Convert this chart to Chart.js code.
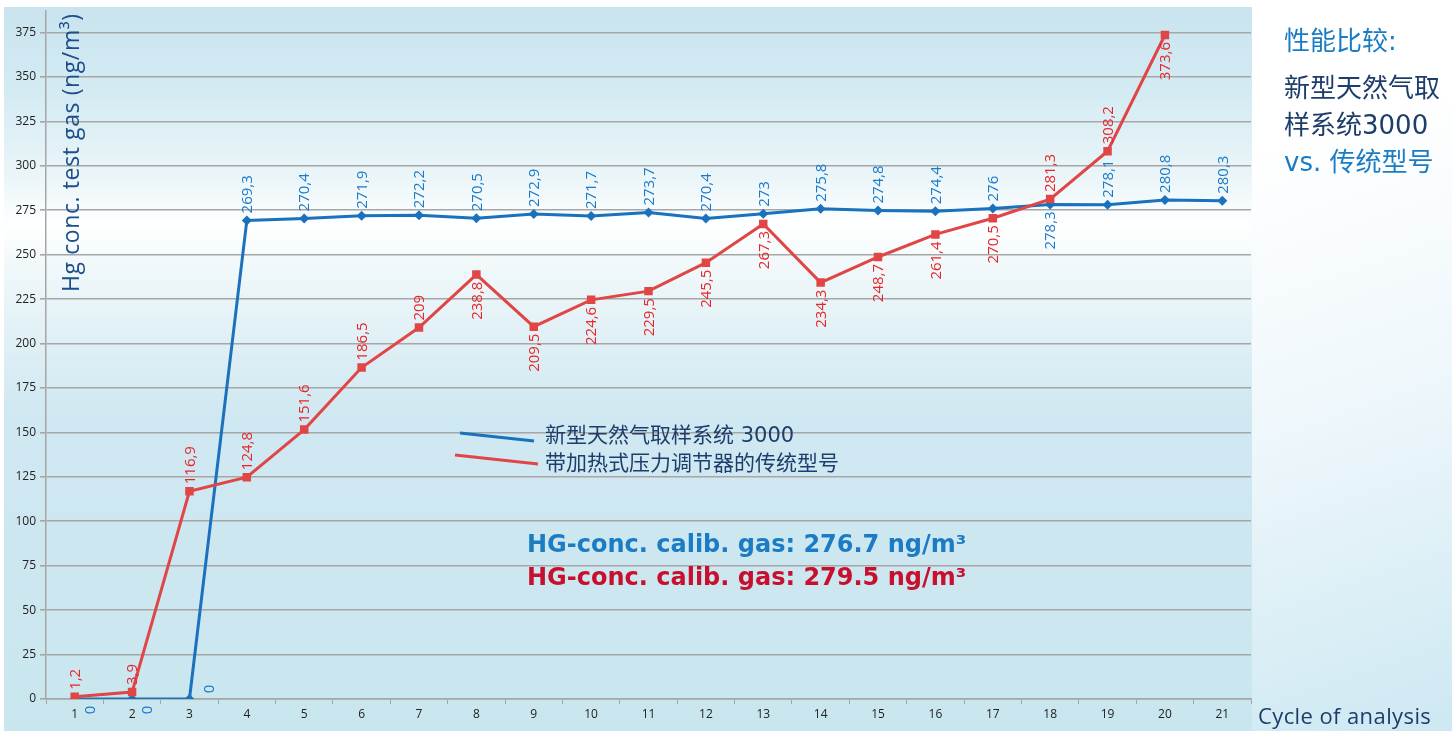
<!DOCTYPE html>
<html>
<head>
<meta charset="utf-8">
<script src="https://cdn.jsdelivr.net/npm/chart.js@4"></script>
<style>
  html, body { margin: 0; padding: 0; background: #fff; }
  #wrap { width: 1452px; height: 731px; position: relative; }
</style>
</head>
<body>
<div id="wrap"><canvas id="chart" width="1452" height="731"></canvas></div>
<script>
// data
const cycles = ['1','2','3','4','5','6','7','8','9','10','11','12','13','14','15','16','17','18','19','20','21'];
const newSystem = [0, 0, 0, 269.3, 270.4, 271.9, 272.2, 270.5, 272.9, 271.7, 273.7, 270.4, 273, 275.8, 274.8, 274.4, 276, 278.3, 278.1, 280.8, 280.3];
const oldSystem = [1.2, 3.9, 116.9, 124.8, 151.6, 186.5, 209, 238.8, 209.5, 224.6, 229.5, 245.5, 267.3, 234.3, 248.7, 261.4, 270.5, 281.3, 308.2, 373.6, null];
const yTicks = [0, 25, 50, 75, 100, 125, 150, 175, 200, 225, 250, 275, 300, 325, 350, 375];
const seriesNames = ['新型天然气取样系统 3000', '带加热式压力调节器的传统型号'];

const BLUE = '#1a71bd';
const RED = '#e04646';
const NAVY = '#1d3d6b';
const LATIN = '"Open Sans", "Noto Sans CJK SC", sans-serif';
const WIDE = '"DejaVu Sans", "Noto Sans CJK SC", sans-serif';

// where each value label sits relative to its point
const blueLabelPlace = ['zeroBelow','zeroBelow','zeroRight','a','a','a','a','a','a','a','a','a','a','a','a','a','a','b','a','a','a'];
const redLabelPlace = ['a','a','a','a','a','a','a','b','b','b','b','b','b','b','b','b','b','a','a','b',null];

const fmt = v => String(v).replace('.', ',');

const decor = {
  id: 'decor',
  beforeDraw(chart) {
    const c = chart.ctx;
    c.save();
    // chart panel background
    const g = c.createLinearGradient(0, 7, 0, 731);
    g.addColorStop(0, '#c9e4ef');
    g.addColorStop(0.12, '#d4ebf3');
    g.addColorStop(0.24, '#ecf6f9');
    g.addColorStop(0.293, '#fcfeff');
    g.addColorStop(0.30, '#ffffff');
    g.addColorStop(0.36, '#f0f8fa');
    g.addColorStop(0.56, '#d0e8f1');
    g.addColorStop(1, '#c9e6ef');
    c.fillStyle = g;
    c.fillRect(4, 7, 1248, 724);
    // right side panel
    const g2 = c.createLinearGradient(1252, 150, 1452, 731);
    g2.addColorStop(0, '#ffffff');
    g2.addColorStop(0.45, '#eef7fb');
    g2.addColorStop(1, '#cde8f2');
    c.fillStyle = g2;
    c.fillRect(1252, 0, 200, 731);
    c.restore();
  },
  afterDatasetsDraw(chart) {
    const c = chart.ctx;
    c.save();

    // value labels, rotated
    c.font = '15px ' + LATIN;
    c.textBaseline = 'middle';
    const sets = [[0, blueLabelPlace, '#1a7acb'], [1, redLabelPlace, '#e8262a']];
    sets.forEach(([di, places, col]) => {
      const meta = chart.getDatasetMeta(di);
      const vals = chart.data.datasets[di].data;
      meta.data.forEach((pt, i) => {
        const v = vals[i];
        if (v === null || places[i] === null) return;
        let x = pt.x + 1, y = pt.y, align = 'left', off = 7;
        if (places[i] === 'b') { align = 'right'; off = -7; }
        if (places[i] === 'zeroBelow') { x = pt.x + 16; y = pt.y + 11; align = 'center'; off = 0; }
        if (places[i] === 'zeroRight') { x = pt.x + 20; y = pt.y - 10; align = 'center'; off = 0; }
        c.save();
        c.translate(x, y);
        c.rotate(-Math.PI / 2);
        c.fillStyle = col;
        c.textAlign = align;
        c.fillText(fmt(v), off, 0);
        c.restore();
      });
    });

    // y axis title inside the plot
    c.save();
    c.translate(72, 292);
    c.rotate(-Math.PI / 2);
    c.fillStyle = '#1b4f8c';
    c.font = '23px ' + LATIN;
    c.letterSpacing = '0.6px';
    c.textAlign = 'left';
    c.textBaseline = 'middle';
    c.fillText('Hg conc. test gas (ng/m³)', 0, 0);
    c.restore();

    // legend with its slanted sample lines
    c.lineWidth = 3;
    c.strokeStyle = BLUE;
    c.beginPath(); c.moveTo(460, 433); c.lineTo(534, 441); c.stroke();
    c.strokeStyle = RED;
    c.beginPath(); c.moveTo(455, 455); c.lineTo(538, 464); c.stroke();
    c.fillStyle = NAVY;
    c.font = '21px ' + WIDE;
    c.textAlign = 'left';
    c.textBaseline = 'middle';
    c.fillText(seriesNames[0], 545, 437);
    c.fillText(seriesNames[1], 545, 465);

    // calibration gas notes
    c.font = 'bold 24px ' + WIDE;
    c.fillStyle = '#1b7cc4';
    c.fillText('HG-conc. calib. gas: 276.7 ng/m³', 527, 546);
    c.fillStyle = '#c8102e';
    c.fillText('HG-conc. calib. gas: 279.5 ng/m³', 527, 579);

    // side panel
    c.font = '26px ' + WIDE;
    c.fillStyle = '#1b7cc4';
    c.fillText('性能比较:', 1284, 43);
    c.fillStyle = NAVY;
    c.fillText('新型天然气取', 1284, 90);
    c.fillText('样系统3000', 1284, 127);
    c.fillStyle = '#1b7cc4';
    c.fillText('vs. 传统型号', 1284, 164);

    // x axis title
    c.fillStyle = NAVY;
    c.font = '22px ' + LATIN;
    c.letterSpacing = '0.4px';
    c.fillText('Cycle of analysis', 1258, 718);

    c.restore();
  }
};

new Chart(document.getElementById('chart'), {
  type: 'line',
  data: {
    labels: cycles,
    datasets: [
      {
        label: seriesNames[0],
        data: newSystem,
        borderColor: BLUE,
        backgroundColor: BLUE,
        borderWidth: 3,
        pointStyle: 'rectRot',
        pointRadius: 5,
        pointBorderWidth: 0,
        tension: 0,
        order: 1
      },
      {
        label: seriesNames[1],
        data: oldSystem,
        borderColor: RED,
        backgroundColor: RED,
        borderWidth: 3,
        pointStyle: 'rect',
        pointRadius: 6,
        pointBorderWidth: 0,
        tension: 0,
        order: 0
      }
    ]
  },
  options: {
    responsive: false,
    animation: false,
    devicePixelRatio: 1,
    layout: { padding: { left: 4, right: 201, top: 8, bottom: 0 } },
    plugins: {
      legend: { display: false },
      tooltip: { enabled: false }
    },
    scales: {
      x: {
        offset: true,
        afterFit: s => { s.height = 32; },
        border: { color: '#a6a6a6', width: 1.5 },
        grid: { drawOnChartArea: false, drawTicks: true, tickLength: 5, color: '#a6a6a6', offset: true },
        ticks: { color: '#222', font: { size: 12, family: LATIN }, padding: 3, maxRotation: 0, autoSkip: false }
      },
      y: {
        min: 0,
        max: 387,
        afterFit: s => { s.width = 42; },
        afterBuildTicks: s => { s.ticks = yTicks.map(v => ({ value: v })); },
        border: { color: '#a6a6a6', width: 1.5 },
        grid: { color: '#a6a6a6', lineWidth: 1.6, tickLength: 6 },
        ticks: { color: '#222', font: { size: 12, family: LATIN }, padding: 4 }
      }
    }
  },
  plugins: [decor]
});
</script>
</body>
</html>
